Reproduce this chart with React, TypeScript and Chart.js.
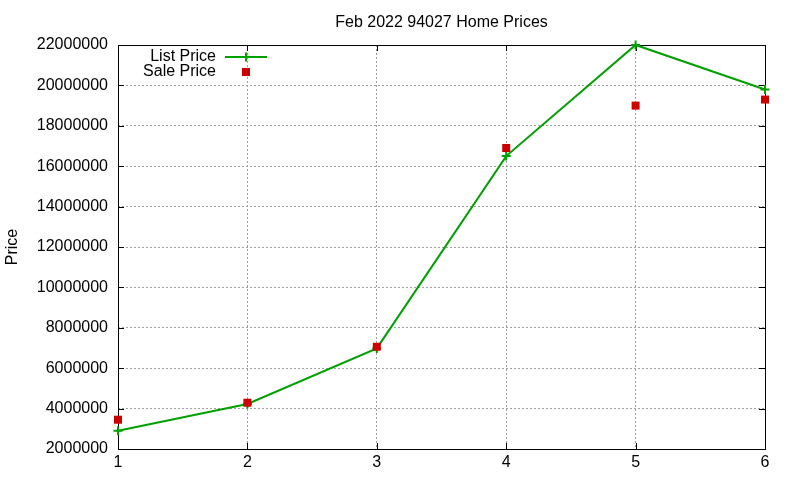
import { useEffect, useRef } from "react";
import Chart from "chart.js/auto";

const xValues = [1, 2, 3, 4, 5, 6];
const listPrice = [2900000, 4230000, 6980000, 16500000, 22000000, 19800000];
const salePrice = [3450000, 4290000, 7060000, 16900000, 19000000, 19300000];

const font = "'Liberation Sans', Arial, sans-serif";
const green = "#00a000";
const red = "#cc0000";

// title, axis label, legend and the gnuplot-style frame with inward ticks
const decorations = {
  id: "decorations",
  beforeDatasetsDraw(chart: any) {
    const { ctx, chartArea: a, scales } = chart;
    ctx.save();

    ctx.strokeStyle = "#000";
    ctx.lineWidth = 1;
    ctx.setLineDash([]);
    ctx.strokeRect(a.left + 0.5, a.top + 0.5, a.right - a.left, a.bottom - a.top);

    const tick = 6;
    ctx.beginPath();
    for (const v of scales.y.ticks.map((t: any) => t.value)) {
      const y = Math.round(scales.y.getPixelForValue(v)) + 0.5;
      ctx.moveTo(a.left, y);
      ctx.lineTo(a.left + tick, y);
      ctx.moveTo(a.right, y);
      ctx.lineTo(a.right - tick, y);
    }
    for (const v of scales.x.ticks.map((t: any) => t.value)) {
      const x = Math.round(scales.x.getPixelForValue(v)) + 0.5;
      ctx.moveTo(x, a.bottom);
      ctx.lineTo(x, a.bottom - tick);
      ctx.moveTo(x, a.top);
      ctx.lineTo(x, a.top + tick);
    }
    ctx.stroke();

    ctx.fillStyle = "#000";
    ctx.font = `16px ${font}`;
    ctx.textAlign = "center";
    ctx.textBaseline = "alphabetic";
    ctx.fillText("Feb 2022 94027 Home Prices", (a.left + a.right) / 2, 27);

    ctx.save();
    ctx.translate(17, (a.top + a.bottom) / 2);
    ctx.rotate(-Math.PI / 2);
    ctx.fillText("Price", 0, 0);
    ctx.restore();

    // legend
    ctx.textAlign = "right";
    ctx.fillText("List Price", 216, 61);
    ctx.fillText("Sale Price", 216, 76);

    ctx.strokeStyle = green;
    ctx.lineWidth = 2;
    ctx.beginPath();
    ctx.moveTo(225, 57);
    ctx.lineTo(267, 57);
    ctx.moveTo(246, 52.5);
    ctx.lineTo(246, 61.5);
    ctx.stroke();

    ctx.fillStyle = red;
    ctx.fillRect(242, 68, 8, 8);

    ctx.restore();
  },
};

export default function App() {
  const canvasRef = useRef<HTMLCanvasElement>(null);

  useEffect(() => {
    document.body.style.margin = "0";
    const canvas = canvasRef.current;
    if (!canvas) return;

    Chart.defaults.font.family = font;

    const chart = new Chart(canvas.getContext("2d")!, {
      type: "line",
      data: {
        datasets: [
          {
            label: "List Price",
            data: xValues.map((x, i) => ({ x, y: listPrice[i] })),
            borderColor: green,
            backgroundColor: green,
            borderWidth: 2,
            pointStyle: "cross",
            pointRadius: 4.5,
            pointBorderWidth: 2,
            pointBorderColor: green,
            tension: 0,
            fill: false,
            clip: false,
            order: 1,
          },
          {
            label: "Sale Price",
            data: xValues.map((x, i) => ({ x, y: salePrice[i] })),
            showLine: false,
            backgroundColor: red,
            borderColor: red,
            pointStyle: "rect",
            pointRadius: 5.66,
            pointBorderWidth: 0,
            clip: false,
            order: 0,
          },
        ],
      },
      options: {
        responsive: false,
        animation: false,
        layout: { padding: { top: 45, right: 35, left: 0, bottom: 0 } },
        plugins: {
          legend: { display: false },
          title: { display: false },
          tooltip: { enabled: false },
        },
        scales: {
          x: {
            type: "linear",
            min: 1,
            max: 6,
            afterFit: (s: any) => {
              s.height = 31;
            },
            ticks: {
              stepSize: 1,
              color: "#000",
              padding: 4,
              font: { size: 16 },
            },
            grid: { color: "#a0a0a0", lineWidth: 1, drawTicks: false },
            border: { display: false, dash: [2, 2] },
          },
          y: {
            min: 2000000,
            max: 22000000,
            afterFit: (s: any) => {
              s.width = 118;
            },
            ticks: {
              stepSize: 2000000,
              color: "#000",
              padding: 10,
              font: { size: 16 },
              callback: (v) => String(v),
            },
            grid: { color: "#a0a0a0", lineWidth: 1, drawTicks: false },
            border: { display: false, dash: [2, 2] },
          },
        },
      },
      plugins: [decorations],
    });

    return () => chart.destroy();
  }, []);

  return (
    <div style={{ width: 800, height: 480, background: "#fff" }}>
      <canvas ref={canvasRef} width={800} height={480} />
    </div>
  );
}
